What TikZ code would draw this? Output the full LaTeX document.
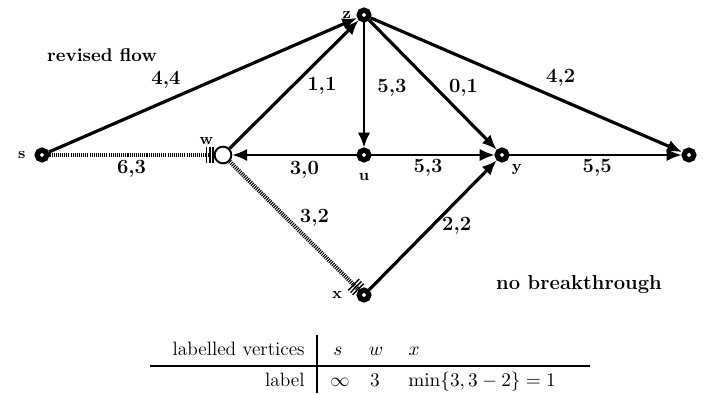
\documentclass[tikz,border=0pt]{standalone}
\usepackage{amsmath}
\usetikzlibrary{arrows.meta,positioning}

\begin{document}
\begin{tikzpicture}[x=0.02cm,y=-0.02cm,
    vert/.style={circle,draw,line width=3pt,fill=white,inner sep=0pt,minimum size=5.5pt},
    openvert/.style={circle,draw,line width=1.1pt,fill=white,inner sep=0pt,minimum size=9.5pt},
    vlab/.style={font=\bfseries\small,inner sep=1pt},
    elab/.style={font=\fontsize{11.5}{13}\selectfont\bfseries,inner sep=1pt},
    tab/.style={font=\fontsize{11}{13}\selectfont,inner sep=0pt},
    flow/.style={line width=1.8pt,-{Latex[length=8.5pt,width=7pt]}},
    thinflow/.style={line width=1.2pt,-{Latex[length=8.5pt,width=7pt]}},
    hatch/.style={line width=2.4pt,dash pattern=on 0.6pt off 0.6pt,
      -{Bar[width=9pt,line width=0.8pt,sep=1pt]Bar[width=9pt,line width=0.8pt,sep=1pt]Bar[width=9pt,line width=0.8pt]}}]
  \useasboundingbox (0,0) rectangle (703,394);
  % Draw the vertices
  \node[vert,label={[vlab,label distance=4pt]left:s}] (s) at (42,155) {};
  \node[openvert,label={[vlab,label distance=1pt]above left:w}] (w) at (223,155) {};
  \node[vert,label={[vlab,label distance=2pt]left:z}] (z) at (364,15) {};
  \node[vert,label={[vlab,label distance=5pt]below:u}] (u) at (364,155) {};
  \node[vert,label={[vlab,label distance=2pt]below right:y}] (y) at (502,155) {};
  \node[vert] (t) at (689,155) {};
  \node[vert,label={[vlab,label distance=7pt]left:x}] (x) at (364,295) {};
  % Draw the arcs with capacity, flow
  \draw[flow] (s) -- node[elab,pos=.38,shift={(0,-21)}] {4,4} (z);
  \draw[hatch] (s) -- node[elab,pos=.5,shift={(0,14)}] {6,3} (w);
  \draw[flow] (w) -- node[elab,pos=.49,shift={(29,0)}] {1,1} (z);
  \draw[thinflow] (u) -- node[elab,pos=.42,shift={(0,15)}] {3,0} (w);
  \draw[thinflow] (z) -- node[elab,pos=.52,shift={(28,0)}] {5,3} (u);
  \draw[flow] (z) -- node[elab,pos=.52,shift={(28,0)}] {0,1} (y);
  \draw[flow] (z) -- node[elab,pos=.61,shift={(0,-22)}] {4,2} (t);
  \draw[thinflow] (u) -- node[elab,pos=.46,shift={(0,13)}] {5,3} (y);
  \draw[thinflow] (y) -- node[elab,pos=.51,shift={(0,13)}] {5,5} (t);
  \draw[hatch] (w) -- node[elab,pos=.44,shift={(28,0)}] {3,2} (x);
  \draw[flow] (x) -- node[elab,pos=.49,shift={(25,0)}] {2,2} (y);
  % captions
  \node[font=\fontsize{10.5}{12}\selectfont\bfseries] (rev) at (102,55) {revised flow};
  \node[font=\fontsize{11.5}{13}\selectfont\bfseries] (nob) at (579,285) {no breakthrough};
  % table of labels
  \node[tab,anchor=base east] (hd) at (305,356) {labelled vertices};
  \node[tab,anchor=base] (hs) at (338,356) {$s$};
  \node[tab,anchor=base] (hw) at (376,356) {$w$};
  \node[tab,anchor=base] (hx) at (414,356) {$x$};
  \node[tab,anchor=base east] (lb) at (305,387) {label};
  \node[tab,anchor=base] (ls) at (340,387) {$\infty$};
  \node[tab,anchor=base] (lw) at (375,387) {$3$};
  \node[tab,anchor=base west] (lx) at (408,387) {$\min\{3,3-2\}=1$};
  \draw[line width=0.8pt] (150,366) -- (590,366);
  \draw[line width=0.8pt] (317,335) -- (317,393);
\end{tikzpicture}
\end{document}
